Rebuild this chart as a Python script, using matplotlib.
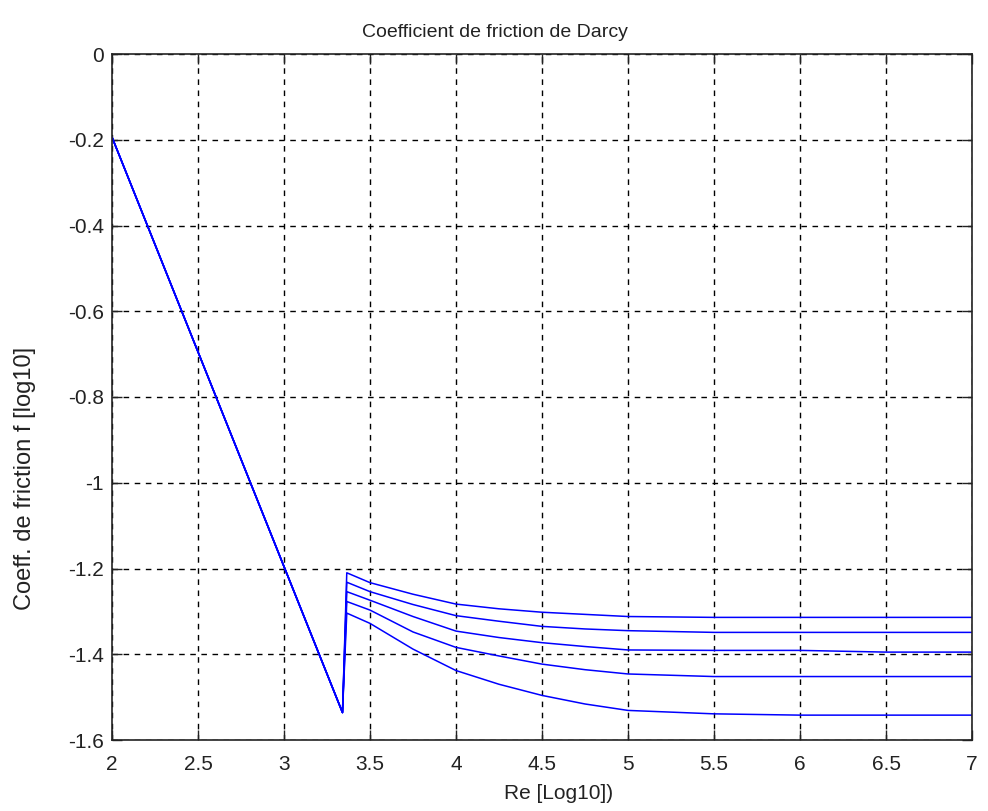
import matplotlib
matplotlib.use("Agg")
import matplotlib.pyplot as plt

plt.rcParams['font.family'] = ['Liberation Sans', 'DejaVu Sans']

# Laminar branch (shared by all curves)
lam_x = [2.0, 3.34]
lam_y = [-0.194, -1.536]

# Turbulent branches (log10 Re vs log10 f), one per roughness
turb_x = [3.365, 3.5, 3.75, 4.0, 4.25, 4.5, 4.75, 5.0, 5.5, 6.0, 6.5, 7.0]
turb_y = [
    [-1.210, -1.233, -1.260, -1.283, -1.294, -1.302, -1.307, -1.312, -1.314, -1.314, -1.314, -1.314],
    [-1.232, -1.254, -1.284, -1.310, -1.323, -1.335, -1.341, -1.345, -1.349, -1.349, -1.349, -1.349],
    [-1.254, -1.274, -1.312, -1.346, -1.361, -1.373, -1.382, -1.390, -1.391, -1.391, -1.395, -1.395],
    [-1.277, -1.297, -1.348, -1.384, -1.404, -1.423, -1.436, -1.446, -1.452, -1.452, -1.452, -1.452],
    [-1.304, -1.328, -1.388, -1.438, -1.470, -1.496, -1.516, -1.531, -1.539, -1.542, -1.542, -1.542],
]

xticks = [2, 2.5, 3, 3.5, 4, 4.5, 5, 5.5, 6, 6.5, 7]
xticklabels = ['2', '2.5', '3', '3.5', '4', '4.5', '5', '5.5', '6', '6.5', '7']
yticks = [0, -0.2, -0.4, -0.6, -0.8, -1, -1.2, -1.4, -1.6]
yticklabels = ['0', '-0.2', '-0.4', '-0.6', '-0.8', '-1', '-1.2', '-1.4', '-1.6']

fig = plt.figure(figsize=(9.88, 8.11), dpi=100)
ax = fig.add_axes([112/988, 1 - 740/811, 860/988, 686/811])

for ty in turb_y:
    ax.plot(lam_x + turb_x, lam_y + ty, color=(0, 0, 1), lw=1.1)

ax.set_xlim(2, 7)
ax.set_ylim(-1.6, 0)
ax.set_xticks(xticks)
ax.set_xticklabels(xticklabels)
ax.set_yticks(yticks)
ax.set_yticklabels(yticklabels)
ax.grid(True, color='black', linestyle=(0, (4, 4)), linewidth=1)
ax.tick_params(direction='in', length=7, width=1, top=True, right=True,
               labelsize=15, colors='#222222')
ax.tick_params(axis='x', pad=11)
ax.tick_params(axis='y', pad=6)
for s in ax.spines.values():
    s.set_linewidth(1.2)
    s.set_color('#222222')

ax.set_title('Coefficient de friction de Darcy', fontsize=14, pad=12,
             x=(495 - 112) / 860, color='#222222')
ax.set_xlabel('Re [Log10])', fontsize=15, color='#222222')
ax.xaxis.set_label_coords((559 - 112) / 860, (740 - 784) / 686)
ax.set_ylabel('Coeff. de friction f [log10]', fontsize=17, color='#222222')
ax.yaxis.set_label_coords((36 - 112) / 860, (740 - 478) / 686)

fig.savefig('out.png', dpi=100)
